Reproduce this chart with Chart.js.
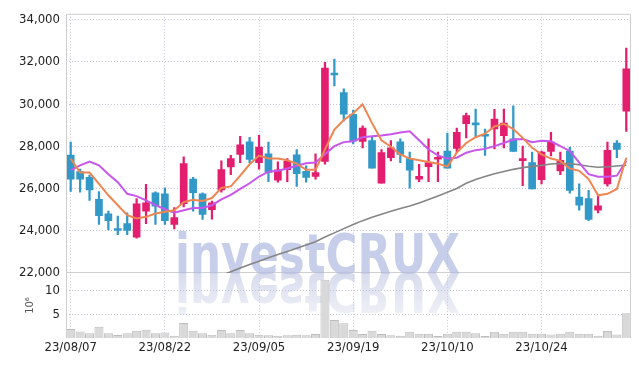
<!DOCTYPE html>
<html>
<head>
<meta charset="utf-8">
<script src="https://cdn.jsdelivr.net/npm/chart.js@4/dist/chart.umd.min.js"></script>
<style>
  html, body { margin: 0; padding: 0; background: #fff; }
  #cadre { width: 639px; height: 366px; }
</style>
</head>
<body>
<div id="cadre"><canvas id="chartBourse"></canvas></div>
<script>
// séances (aa/mm/jj)
const dates = [
  "23/08/07", "23/08/08", "23/08/09", "23/08/10", "23/08/11", "23/08/14", "23/08/16", "23/08/17", "23/08/18", "23/08/21",
  "23/08/22", "23/08/23", "23/08/24", "23/08/25", "23/08/28", "23/08/29", "23/08/30", "23/08/31", "23/09/01", "23/09/04",
  "23/09/05", "23/09/06", "23/09/07", "23/09/08", "23/09/11", "23/09/12", "23/09/13", "23/09/14", "23/09/15", "23/09/18",
  "23/09/19", "23/09/20", "23/09/21", "23/09/22", "23/09/25", "23/09/26", "23/09/27", "23/10/04", "23/10/05", "23/10/06",
  "23/10/10", "23/10/11", "23/10/12", "23/10/13", "23/10/16", "23/10/17", "23/10/18", "23/10/19", "23/10/20", "23/10/23",
  "23/10/24", "23/10/25", "23/10/26", "23/10/27", "23/10/30", "23/10/31", "23/11/01", "23/11/02", "23/11/03", "23/11/06"
];

const ouverture = [
  27590, 26800, 26530, 25490, 24800, 24100, 24340, 23700, 24930, 25800,
  25750, 24300, 25280, 26450, 25750, 25000, 25940, 27030, 27620, 28210,
  27230, 27650, 26400, 26890, 27600, 26810, 26580, 27280, 31430, 30550,
  29520, 28230, 28270, 26260, 27460, 28210, 27420, 26450, 27040, 27390,
  27780, 27900, 29070, 29050, 28500, 28830, 28510, 28350, 27320, 27230,
  26420, 27760, 26840, 27780, 25600, 25520, 24970, 26220, 28160, 29670
];
const plusHaut = [
  28200, 26920, 26640, 25860, 24930, 24700, 24850, 25530, 26200, 25840,
  26030, 25100, 27500, 26530, 25800, 25410, 27310, 27570, 28480, 28430,
  28520, 28200, 27260, 27420, 27850, 27080, 27650, 31980, 32130, 30720,
  29720, 28970, 28480, 27850, 28270, 28350, 27730, 27150, 28350, 27730,
  28630, 28860, 29570, 29770, 28820, 29750, 29770, 29920, 28010, 27730,
  27780, 28660, 27730, 27960, 26220, 25910, 25670, 28200, 28270, 32650
];
const plusBas = [
  25860, 25830, 25440, 24300, 24040, 23810, 23810, 23650, 24330, 24300,
  24300, 24090, 25130, 24930, 24540, 24550, 25830, 26660, 27230, 27230,
  26920, 26330, 26300, 26330, 26100, 26300, 26450, 27150, 30860, 29210,
  28120, 27930, 26960, 26260, 27310, 27230, 26020, 26330, 26330, 26330,
  26960, 27700, 28400, 28430, 27570, 27880, 27930, 27760, 26140, 25980,
  26220, 27540, 26660, 25780, 24970, 24480, 24850, 26110, 27460, 28710
];
const cloture = [
  26450, 26450, 25940, 24710, 24480, 24010, 24010, 25270, 25320, 25160,
  24480, 24620, 27180, 25800, 24770, 25320, 26900, 27420, 28070, 27380,
  27960, 26760, 26890, 27290, 26700, 26530, 26760, 31710, 31380, 29520,
  28240, 28860, 26960, 27700, 27930, 27620, 26870, 26580, 27230, 27460,
  26960, 28660, 29460, 29020, 28480, 29290, 29100, 27760, 27350, 25980,
  27730, 28200, 27340, 25910, 25210, 24540, 25180, 27810, 27850, 31670
];

// moyennes mobiles
const mm5 = [
  27420, 26760, 26760, 26220, 25680, 25210, 24740, 24580, 24660, 24820,
  24900, 24970, 25360, 25470, 25410, 25550, 26030, 26100, 26610, 27150,
  27560, 27420, 27420, 27340, 27180, 26890, 26890, 27850, 28790, 29250,
  29570, 29990, 29100, 28290, 27980, 27620, 27420, 27340, 27260, 27180,
  27040, 27700, 28160, 28430, 28600, 28940, 29070, 28820, 28400, 27930,
  27620, 27420, 27310, 26950, 26840, 26450, 25680, 25750, 25980, 27460
];
const mm20 = [
  26870, 27100, 27280, 27100, 26680, 26300, 25750, 25640, 25440, 25210,
  25020, 24860, 24970, 25080, 25080, 25210, 25490, 25700, 25980, 26250,
  26570, 26800, 26840, 26950, 27080, 27200, 27230, 27620, 28010, 28200,
  28240, 28430, 28480, 28510, 28570, 28660, 28710, 28290, 27850, 27570,
  27420, 27460, 27700, 27820, 27880, 28010, 28160, 28320, 28350, 28200,
  28270, 28240, 28010, 27780, 27230, 26680, 26560, 26560, 26610, 27310
];
const mmLongue = [
  null, null, null, null, null, null, null, null, null, null,
  null, null, null, null, null, null, 21880, 22060, 22230, 22400,
  22560, 22720, 22870, 23020, 23170, 23320, 23480, 23700, 23900, 24100,
  24300, 24480, 24640, 24780, 24920, 25050, 25170, 25320, 25480, 25650,
  25820, 26000, 26250, 26430, 26570, 26700, 26810, 26910, 26990, 27050,
  27100, 27160, 27190, 27180, 27130, 27060, 27010, 27030, 27070, 27110
];

// volume, en millions
const volume = [
  1.9, 1.4, 1.0, 2.4, 1.0, 0.65, 1.0, 1.55, 1.75, 1.0,
  1.15, 0.5, 3.15, 1.55, 1.0, 0.7, 1.7, 1.0, 1.7, 1.0,
  0.7, 0.6, 0.45, 0.6, 0.7, 0.6, 0.85, 12.3, 3.8, 3.1,
  1.7, 0.85, 1.55, 0.85, 0.6, 0.45, 1.3, 0.9, 0.9, 0.4,
  0.9, 1.3, 1.3, 1.0, 0.4, 1.3, 0.9, 1.3, 1.3, 0.9,
  0.9, 0.75, 0.9, 1.3, 0.9, 0.9, 0.5, 1.5, 0.75, 5.25
];

// graduations
const ticksCours = [22000, 24000, 26000, 28000, 30000, 32000, 34000];
const ticksVolume = [5, 10];

const ROUGE = "#e31e6e";
const BLEU = "#3298c8";
const GRILLE = "#c6c6da";
const police = "'DejaVu Sans Condensed', 'DejaVu Sans', sans-serif";

const couleurs = dates.map((d, i) => (cloture[i] >= ouverture[i] ? ROUGE : BLEU));

// filigrane, découpe par panneau, cadre
const decor = {
  id: "decor",
  beforeDatasetsDraw(chart) {
    const ctx = chart.ctx;
    const zone = chart.chartArea;
    const base = chart.scales.y.bottom;
    ctx.save();
    ctx.font = "bold 55px 'DejaVu Sans', sans-serif";
    const largeur = ctx.measureText("investCRUX").width;
    ctx.translate(zone.left + 109, base);
    ctx.scale(285 / largeur, 1);
    ctx.fillStyle = "rgba(172,183,222,0.68)";
    ctx.fillText("investCRUX", 0, 0);
    // reflet
    ctx.scale(1, -1);
    const degrade = ctx.createLinearGradient(0, 0, 0, -42);
    degrade.addColorStop(0, "rgba(190,196,224,0.6)");
    degrade.addColorStop(1, "rgba(190,196,224,0.25)");
    ctx.fillStyle = degrade;
    ctx.fillText("investCRUX", 0, 0);
    ctx.restore();
  },
  beforeDatasetDraw(chart, args) {
    const ds = chart.data.datasets[args.index];
    const sc = chart.scales[ds.yAxisID || "y"];
    const zone = chart.chartArea;
    chart.ctx.save();
    chart.ctx.beginPath();
    chart.ctx.rect(zone.left, sc.top, zone.right - zone.left, sc.bottom - sc.top);
    chart.ctx.clip();
  },
  afterDatasetDraw(chart) {
    chart.ctx.restore();
  },
  afterDraw(chart) {
    const ctx = chart.ctx;
    const zone = chart.chartArea;
    ctx.save();
    ctx.strokeStyle = "#cfcfcf";
    ctx.lineWidth = 1;
    ctx.beginPath();
    ctx.moveTo(zone.left + 0.5, zone.bottom);
    ctx.lineTo(zone.left + 0.5, zone.top + 0.5);
    ctx.lineTo(zone.right - 0.5, zone.top + 0.5);
    ctx.lineTo(zone.right - 0.5, zone.bottom);
    ctx.stroke();
    ctx.restore();
  }
};

function afficherGraphique() {
  const ctx = document.getElementById("chartBourse").getContext("2d");

  new Chart(ctx, {
    type: "bar",
    data: {
      labels: dates,
      datasets: [
        {
          type: "line",
          label: "MM5",
          data: mm5,
          borderColor: "#ef8551",
          borderWidth: 2,
          pointRadius: 0,
          yAxisID: "y",
          order: 0
        },
        {
          type: "line",
          label: "MM20",
          data: mm20,
          borderColor: "#c956ec",
          borderWidth: 2,
          pointRadius: 0,
          yAxisID: "y",
          order: 0
        },
        {
          type: "line",
          label: "MM longue",
          data: mmLongue,
          borderColor: "#858585",
          borderWidth: 1.6,
          pointRadius: 0,
          yAxisID: "y",
          order: 0
        },
        {
          label: "Corps",
          data: dates.map((d, i) => [ouverture[i], cloture[i]]),
          backgroundColor: couleurs,
          borderWidth: 0,
          barThickness: 7,
          minBarLength: 2,
          grouped: false,
          yAxisID: "y",
          order: 1
        },
        {
          label: "Mèches",
          data: dates.map((d, i) => [plusBas[i], plusHaut[i]]),
          backgroundColor: couleurs,
          borderWidth: 0,
          barThickness: 1.6,
          grouped: false,
          yAxisID: "y",
          order: 2
        },
        {
          label: "Volume",
          data: volume,
          backgroundColor: "#d9d9d9",
          borderColor: "#bdbdbd",
          borderWidth: 1,
          categoryPercentage: 1,
          barPercentage: 0.96,
          grouped: false,
          yAxisID: "v",
          order: 3
        }
      ]
    },
    options: {
      responsive: true,
      maintainAspectRatio: false,
      animation: false,
      events: [],
      layout: { padding: { top: 9, right: 8, bottom: 6, left: 0 } },
      plugins: {
        legend: { display: false },
        tooltip: { enabled: false }
      },
      scales: {
        x: {
          offset: true,
          grid: {
            offset: false,
            drawTicks: false,
            color: c => (c.index % 10 === 0 ? GRILLE : "transparent")
          },
          border: { display: false, dash: [1, 2] },
          ticks: {
            autoSkip: false,
            maxRotation: 0,
            padding: 2,
            color: "#222",
            font: { family: police, size: 13 },
            callback: (v, i) => (i % 10 === 0 ? dates[i] : "")
          },
          afterFit: s => { s.height = 22; }
        },
        y: {
          position: "left",
          stack: "cours",
          stackWeight: 263,
          weight: 1,
          min: 22000,
          max: 34280,
          afterBuildTicks: s => { s.ticks = ticksCours.map(v => ({ value: v })); },
          grid: {
            drawTicks: false,
            color: c => (c.tick && c.tick.value === 22000 ? "#d0d0d0" : GRILLE)
          },
          border: {
            display: false,
            dash: c => (c.tick && c.tick.value === 22000 ? [] : [1, 2])
          },
          ticks: {
            padding: 6,
            color: "#222",
            font: { family: police, size: 13 },
            callback: v => v.toLocaleString("en-US")
          },
          afterFit: s => { s.width = 66; }
        },
        v: {
          position: "left",
          stack: "cours",
          stackWeight: 66,
          weight: 0,
          min: 0,
          max: 13.75,
          afterBuildTicks: s => { s.ticks = ticksVolume.map(v => ({ value: v })); },
          grid: {
            drawTicks: false,
            color: GRILLE
          },
          border: { display: false, dash: [1, 2] },
          ticks: {
            padding: 6,
            color: "#222",
            font: { family: police, size: 13 },
            callback: v => v
          },
          title: {
            display: true,
            text: "10⁶",
            color: "#555",
            font: { family: police, size: 11 },
            padding: { top: 24, bottom: 0 }
          },
          afterFit: s => { s.width = 66; }
        }
      }
    },
    plugins: [decor]
  });
}

document.addEventListener("DOMContentLoaded", afficherGraphique);
</script>
</body>
</html>
